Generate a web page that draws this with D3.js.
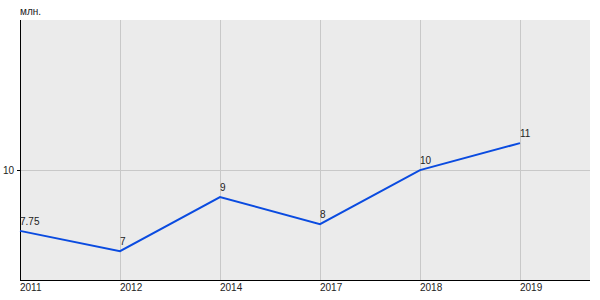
<!DOCTYPE html>
<html><head><meta charset="utf-8">
<script src="https://cdn.jsdelivr.net/npm/d3@7"></script>
<style>body{margin:0;background:#fff}text{font-family:"Liberation Sans",Arial,sans-serif}</style>
</head><body><svg id="c" width="600" height="300"></svg>
<script>
const categories = ["2011","2012","2014","2017","2018","2019"];
const values = [7.75, 7, 9, 8, 10, 11];
const valueLabels = ["7.75","7","9","8","10","11"];
const yTicks = [10];
const unitLabel = "млн.";

const svg = d3.select("#c");
const L=20,R=590,T=20,B=280;
const x = d3.scaleLinear().domain([0, categories.length - 0.3]).range([L,R]);
const y = d3.scaleLinear().domain([5.93, 15.56]).range([B,T]);

svg.append("rect").attr("x",L).attr("y",T).attr("width",R-L).attr("height",B-T).attr("fill","#ebebeb");
// grid
svg.selectAll("line.vg").data(categories).join("line")
  .attr("x1",(d,i)=>x(i)+0.5).attr("x2",(d,i)=>x(i)+0.5).attr("y1",T).attr("y2",B)
  .attr("stroke","#c8c8c8").attr("stroke-width",1);
svg.selectAll("line.hg").data(yTicks).join("line")
  .attr("x1",L).attr("x2",R).attr("y1",d=>Math.round(y(d))+0.5).attr("y2",d=>Math.round(y(d))+0.5)
  .attr("stroke","#c8c8c8").attr("stroke-width",1);
// axes
svg.append("line").attr("x1",L+0.5).attr("x2",L+0.5).attr("y1",T).attr("y2",B).attr("stroke","#000");
svg.append("line").attr("x1",L).attr("x2",R).attr("y1",B+0.5).attr("y2",B+0.5).attr("stroke","#000");
svg.selectAll("line.yt").data(yTicks).join("line")
  .attr("x1",L-3).attr("x2",L).attr("y1",d=>Math.round(y(d))+0.5).attr("y2",d=>Math.round(y(d))+0.5).attr("stroke","#000");
svg.selectAll("text.yl").data(yTicks).join("text")
  .attr("x",L-6).attr("y",d=>y(d)+3.5).attr("text-anchor","end").attr("font-size",10).attr("fill","#222").text(d=>d);
svg.selectAll("text.xl").data(categories).join("text")
  .attr("x",(d,i)=>x(i)).attr("y",B+11).attr("font-size",10).attr("fill","#222").text(d=>d);
svg.append("text").attr("x",L).attr("y",15).attr("font-size",10).attr("fill","#222").text(unitLabel);
// line
svg.append("path").datum(values)
  .attr("d",d3.line().x((d,i)=>x(i)).y(d=>y(d)))
  .attr("fill","none").attr("stroke","#0a4be0").attr("stroke-width",2);
svg.selectAll("text.vl").data(values).join("text")
  .attr("x",(d,i)=>x(i)).attr("y",d=>y(d)-6).attr("font-size",10).attr("fill","#222").text((d,i)=>valueLabels[i]);
</script></body></html>
